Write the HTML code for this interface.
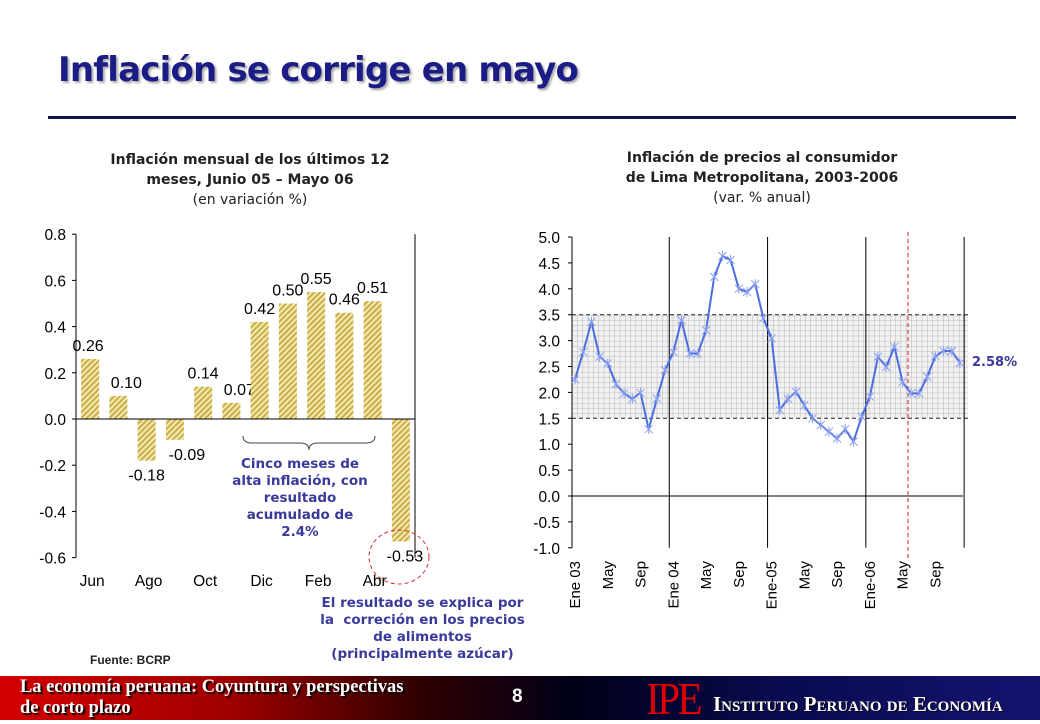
<!DOCTYPE html>
<html><head><meta charset="utf-8">
<style>
body{margin:0;width:1040px;height:720px;overflow:hidden;background:#fff;font-family:"Liberation Sans",sans-serif;position:relative}
.t{position:absolute;}
</style></head>
<body>
<div class="t" style="left:58px;top:50px;font-size:34px;font-weight:bold;color:#1c1c86;font-family:'DejaVu Sans','Liberation Sans',sans-serif;text-shadow:2px 2px 2px #aaa;letter-spacing:-0.8px">Inflación se corrige en mayo</div>
<div class="t" style="left:48px;top:116px;width:968px;height:3px;background:#141450"></div>

<div class="t" style="left:40px;top:150px;width:420px;text-align:center;font-family:'DejaVu Sans',sans-serif;font-size:14px;line-height:20px;color:#222"><b>Inflación mensual de los últimos 12<br>meses, Junio 05 – Mayo 06</b><br>(en variación %)</div>
<div class="t" style="left:537px;top:148px;width:450px;text-align:center;font-family:'DejaVu Sans',sans-serif;font-size:14px;line-height:20px;color:#222"><b>Inflación de precios al consumidor<br>de Lima Metropolitana, 2003-2006</b><br>(var. % anual)</div>

<svg id="chart" width="1040" height="720" style="position:absolute;left:0;top:0">
<defs>
<pattern id="hatch" width="4" height="4" patternUnits="userSpaceOnUse" patternTransform="rotate(45)">
<rect width="4" height="4" fill="#f4eab0"/><rect width="2" height="4" fill="#c8ad4a"/></pattern>
<pattern id="grid" width="5.3" height="5.18" patternUnits="userSpaceOnUse" x="572" y="315">
<rect width="5.3" height="5.18" fill="#f2f2f2"/><path d="M0 0H5.3M0 0V5.18" stroke="#a8a8a8" stroke-width="0.8"/></pattern>
</defs>
<g id="left"></g><g id="right"></g>
</svg>

<div class="t" style="left:200px;top:456px;width:200px;text-align:center;font-family:'DejaVu Sans',sans-serif;font-weight:bold;font-size:13.5px;line-height:17px;color:#3a3a9a">Cinco meses de<br>alta inflación, con<br>resultado<br>acumulado de<br>2.4%</div>
<div class="t" style="left:300px;top:595px;width:245px;text-align:center;font-family:'DejaVu Sans',sans-serif;font-weight:bold;font-size:13.5px;line-height:17px;color:#3a3a9a">El resultado se explica por<br>la &nbsp;correción en los precios<br>de alimentos<br>(principalmente azúcar)</div>
<div class="t" style="left:90px;top:653px;font-size:12px;font-weight:bold;color:#222">Fuente: BCRP</div>
<div class="t" style="left:972px;top:355px;font-family:'DejaVu Sans',sans-serif;font-size:13px;font-weight:bold;color:#3a3a9a">2.58%</div>

<div class="t" style="left:0;top:676px;width:1040px;height:44px;background:linear-gradient(90deg,#d40000 0%,#a00000 22%,#300000 40%,#000018 55%,#0a0a50 75%,#141470 100%)"></div>
<div class="t" style="left:20px;top:676px;font-family:'Liberation Serif',serif;font-weight:bold;font-size:19px;line-height:21px;color:#fff;text-shadow:2px 2px 1px #000;transform:scaleX(0.97);transform-origin:0 0;white-space:nowrap">La economía peruana: Coyuntura y perspectivas<br>de corto plazo</div>
<div class="t" style="left:512px;top:686px;font-weight:bold;font-size:19px;color:#fff">8</div>
<div class="t" style="left:646px;top:676px;font-family:'Liberation Serif',serif;font-size:46px;line-height:46px;color:#e00000;letter-spacing:-3px;transform:scaleX(0.9);transform-origin:0 0">IPE</div>
<div class="t" style="left:713px;top:692px;font-family:'Liberation Serif',serif;font-weight:bold;font-size:21px;color:#fff;font-variant:small-caps;text-shadow:1px 1px 1px #000;white-space:nowrap">Instituto Peruano de Economía</div>

<script>
const barCats=["Jun","Jul","Ago","Set","Oct","Nov","Dic","Ene","Feb","Mar","Abr","May"];
const barVals=[0.26,0.10,-0.18,-0.09,0.14,0.07,0.42,0.50,0.55,0.46,0.51,-0.53];
const barTicks=[0.8,0.6,0.4,0.2,0.0,-0.2,-0.4,-0.6];
const lineVals=[2.25,2.78,3.36,2.69,2.56,2.16,1.98,1.88,1.99,1.29,1.88,2.43,2.78,3.39,2.75,2.75,3.2,4.23,4.63,4.56,4.0,3.94,4.09,3.43,3.04,1.66,1.88,2.01,1.75,1.5,1.37,1.24,1.11,1.29,1.05,1.53,1.92,2.69,2.49,2.88,2.2,1.98,1.98,2.3,2.7,2.8,2.8,2.57];
const lineTicks=[5.0,4.5,4.0,3.5,3.0,2.5,2.0,1.5,1.0,0.5,0.0,-0.5,-1.0];
const lineLabels=["Ene 03","May","Sep","Ene 04","May","Sep","Ene-05","May","Sep","Ene-06","May","Sep"];
const bandLo=1.5, bandHi=3.5;
const NS="http://www.w3.org/2000/svg";
function mk(p,tag,a,txt){const e=document.createElementNS(NS,tag);for(const k in a)e.setAttribute(k,a[k]);if(txt!==undefined)e.textContent=txt;p.appendChild(e);return e;}
// left chart
const L=document.getElementById('left');
const lx0=76,lx1=415,cw=(lx1-lx0)/barCats.length;
const ly=v=>419-(v)*231;
barTicks.forEach(t=>{
 const tk=mk(L,'line',{x1:lx0-4,x2:lx0,y1:ly(t),y2:ly(t),stroke:'#000'});
 
 const tl=mk(L,'text',{x:lx0-10,y:ly(t)+6,'text-anchor':'end','font-size':15.5},t.toFixed(1));
 
});
mk(L,'line',{x1:lx0,x2:lx0,y1:ly(0.8),y2:ly(-0.6),stroke:'#000'});
mk(L,'line',{x1:lx1,x2:lx1,y1:ly(0.8),y2:ly(-0.6),stroke:'#000'});
const offs=[-2,8,0,12,0,8,0,0,0,0,0,4];
barVals.forEach((v,i)=>{
 const cx=lx0+cw*(i+0.5),w=18;
 const r=mk(L,'rect',{x:cx-w/2,y:Math.min(ly(v),ly(0)),width:w,height:Math.abs(ly(v)-ly(0)),fill:'url(#hatch)'});
 
 const ty=v>=0?ly(v)-8:ly(v)+20;
 const lb=mk(L,'text',{x:cx+offs[i],y:ty,'text-anchor':'middle','font-size':16},v.toFixed(2));
 
 if(i%2==0){const xl=mk(L,'text',{x:cx+2,y:586,'text-anchor':'middle','font-size':15.5},barCats[i]);
 }
});
mk(L,'line',{x1:lx0,x2:lx1,y1:ly(0),y2:ly(0),stroke:'#000'});
mk(L,'path',{d:'M243 436 Q243 443 252 443 L300 443 Q309 443 309 450 Q309 443 318 443 L366 443 Q375 443 375 436',fill:'none',stroke:'#444','stroke-width':1});
mk(L,'ellipse',{cx:399,cy:557,rx:30,ry:27,fill:'none',stroke:'#d03030','stroke-dasharray':'4 3'});
// right chart
const R=document.getElementById('right');
const rx0=572,rx1=963,step=8.19,px0=575;
const ry=v=>496-v*51.8;
const rxp=i=>px0+i*step;
mk(R,'rect',{x:rx0,y:ry(bandHi),width:396,height:ry(bandLo)-ry(bandHi),fill:'url(#grid)'});
mk(R,'line',{x1:rx0,x2:968,y1:ry(bandHi),y2:ry(bandHi),stroke:'#222','stroke-dasharray':'4 3'});
mk(R,'line',{x1:rx0,x2:968,y1:ry(bandLo),y2:ry(bandLo),stroke:'#222','stroke-dasharray':'4 3'});
lineTicks.forEach(t=>{
 mk(R,'line',{x1:rx0-4,x2:rx0,y1:ry(t),y2:ry(t),stroke:'#000'});
 const tl=mk(R,'text',{x:rx0-12,y:ry(t)+6,'text-anchor':'end','font-size':15.5},t.toFixed(1));
 
});
mk(R,'line',{x1:rx0,x2:rx0,y1:ry(5),y2:ry(-1),stroke:'#000'});
[12,24,36,48].forEach(i=>mk(R,'line',{x1:rxp(i)-4,x2:rxp(i)-4,y1:ry(5),y2:ry(-1),stroke:'#000'}));
mk(R,'line',{x1:rx0,x2:rx1,y1:ry(0),y2:ry(0),stroke:'#000'});
mk(R,'line',{x1:908,x2:908,y1:232,y2:560,stroke:'#d02020','stroke-dasharray':'4 3'});
const pl=mk(R,'polyline',{points:lineVals.map((v,i)=>rxp(i)+','+ry(v)).join(' '),fill:'none',stroke:'#4a6ee0','stroke-width':2});

lineVals.forEach((v,i)=>{const x=rxp(i),y=ry(v);
 const m=mk(R,'path',{d:`M${x-4} ${y-4}L${x+4} ${y+4}M${x-4} ${y+4}L${x+4} ${y-4}M${x} ${y-5}V${y+5}`,stroke:'#8a9ef0','stroke-width':1});
 });
lineLabels.forEach((s,k)=>{const x=rxp(k*4)+5;
 const t=mk(R,'text',{x:0,y:0,transform:`translate(${x},561) rotate(-90)`,'text-anchor':'end','font-size':15},s);
 });
</script>
</body></html>
